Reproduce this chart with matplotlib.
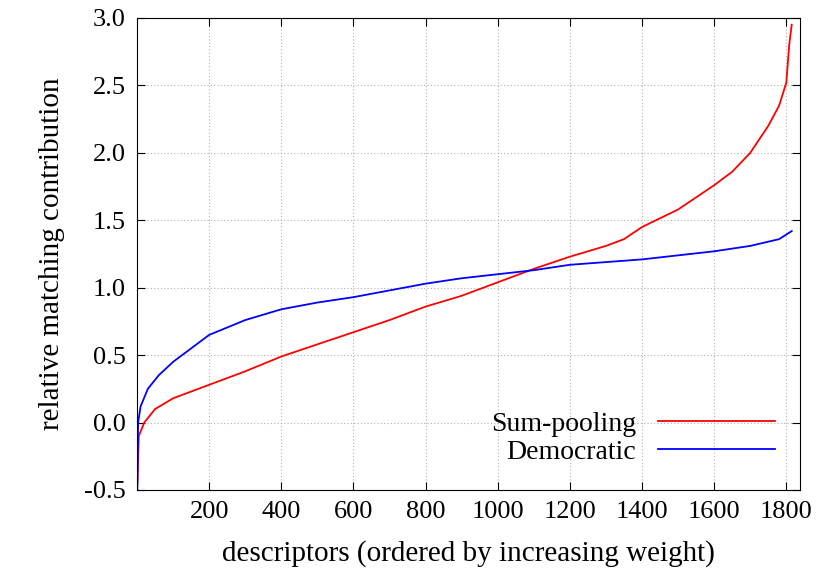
import matplotlib
matplotlib.use("Agg")
import matplotlib.pyplot as plt
import numpy as np

red_x = [1, 5, 20, 50, 100, 200, 300, 400, 500, 600, 700, 800, 900, 1000, 1100, 1200, 1300, 1350, 1400, 1500, 1550, 1600, 1650, 1700, 1750, 1780, 1800, 1808, 1815]
red_y = [-0.45, -0.1, 0.0, 0.1, 0.18, 0.28, 0.38, 0.49, 0.58, 0.67, 0.76, 0.86, 0.94, 1.04, 1.14, 1.23, 1.31, 1.36, 1.45, 1.58, 1.67, 1.76, 1.86, 2.0, 2.2, 2.35, 2.52, 2.8, 2.95]
blue_x = [1, 3, 10, 30, 60, 100, 150, 200, 300, 400, 500, 600, 700, 800, 900, 1000, 1100, 1200, 1300, 1400, 1500, 1600, 1700, 1780, 1815]
blue_y = [-0.5, 0.0, 0.12, 0.25, 0.35, 0.45, 0.55, 0.65, 0.76, 0.84, 0.89, 0.93, 0.98, 1.03, 1.07, 1.10, 1.13, 1.17, 1.19, 1.21, 1.24, 1.27, 1.31, 1.36, 1.42]
xticks = [200, 400, 600, 800, 1000, 1200, 1400, 1600, 1800]
yticks = [-0.5, 0.0, 0.5, 1.0, 1.5, 2.0, 2.5, 3.0]

plt.rcParams["font.family"] = "Liberation Serif"
plt.rcParams["font.size"] = 19
fig = plt.figure(figsize=(8.3, 5.84), dpi=100)
ax = fig.add_axes([137/830, 1-490/584, (800-137)/830, (490-18)/584])
ax.plot(red_x, red_y, color="#ff0000", lw=1.3, label="Sum-pooling")
ax.plot(blue_x, blue_y, color="#0000ff", lw=1.3, label="Democratic")
ax.set_xlim(0, 1838)
ax.set_ylim(-0.5, 3.0)
ax.set_xticks(xticks)
ax.set_yticks(yticks)
ax.set_yticklabels([f"{v:.1f}" for v in yticks])
ax.grid(True, color="#b0b0b0", linestyle=(0, (1, 2)), lw=0.8)
ax.tick_params(direction="in", top=True, right=True, length=6, pad=8, labelsize=19)
ax.set_xlabel("descriptors (ordered by increasing weight)", labelpad=12, fontsize=21)
ax.set_ylabel("relative matching contribution", labelpad=14, fontsize=21)
leg = ax.legend(loc="lower right", frameon=False, markerfirst=False, handlelength=4.2,
                borderaxespad=0.5, labelspacing=0.1, fontsize=20)
fig.savefig("out.png", dpi=100)
